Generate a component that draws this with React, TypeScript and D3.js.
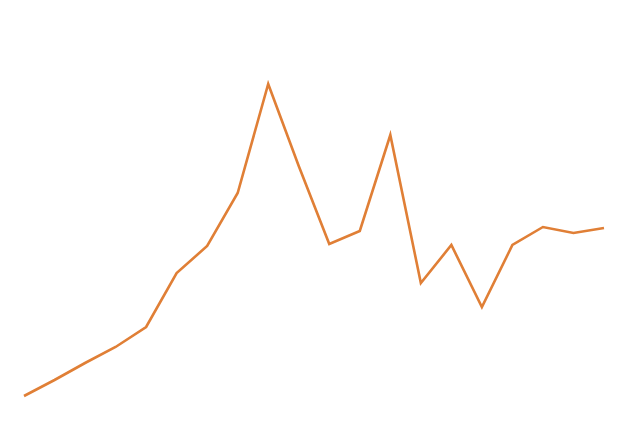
import { useMemo } from 'react';
import * as d3 from 'd3';

const WIDTH = 627;
const HEIGHT = 426;
const MARGIN = { top: 20, right: 23, bottom: 20, left: 24 } as const;

// (arbitrary units, higher = up).
const STEPS = d3.range(1, 21);
const VALUES = [
  30, 46, 63, 79, 99, 153, 180, 233, 342, 260,
  182, 195, 291, 143, 181, 119, 181, 199, 193, 198,
];

const LINE_COLOR = '#e07f36';

export default function App() {
  const path = useMemo(() => {
    const x = d3
      .scaleLinear()
      .domain([STEPS[0], STEPS[STEPS.length - 1]])
      .range([MARGIN.left, WIDTH - MARGIN.right]);
    // y domain chosen so 0 sits at the bottom edge of the 426px frame
    const y = d3.scaleLinear().domain([0, HEIGHT]).range([HEIGHT, 0]);
    const line = d3
      .line<number>()
      .x((_, i) => x(STEPS[i]))
      .y((d) => y(d));
    return line(VALUES) ?? '';
  }, []);

  return (
    <svg
      width={WIDTH}
      height={HEIGHT}
      viewBox={`0 0 ${WIDTH} ${HEIGHT}`}
      style={{ position: 'fixed', top: 0, left: 0, display: 'block', background: '#ffffff' }}
    >
      <path d={path} fill="none" stroke={LINE_COLOR} strokeWidth={2.6} strokeLinejoin="miter" />
    </svg>
  );
}
